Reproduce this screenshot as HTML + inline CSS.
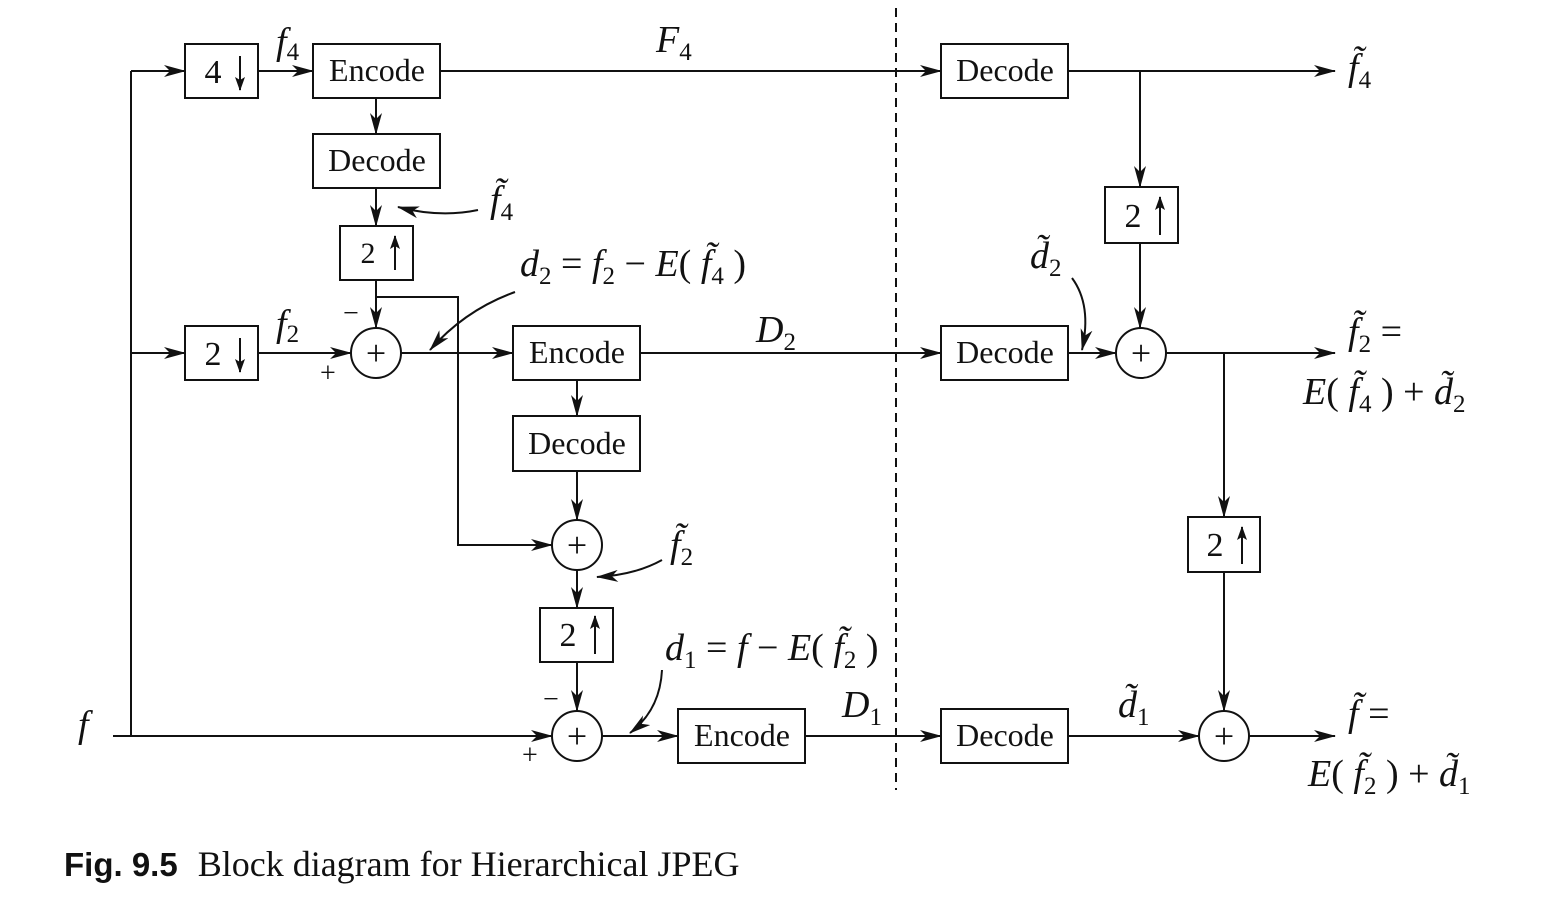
<!DOCTYPE html>
<html><head><meta charset="utf-8"><style>
body{margin:0;background:#fff}
svg{display:block}
text{font-family:"Liberation Serif",serif;fill:#111}
.it{font-style:italic}
.bx{fill:#fff;stroke:#111;stroke-width:2}
.ln{stroke:#111;stroke-width:2;fill:none}
.bt{font-size:32px;text-anchor:middle}
.pl{font-size:36px;text-anchor:middle}
.num{font-size:34px;text-anchor:middle}
.lab{font-size:38px}
.sb{font-size:25px;font-style:normal}
</style></head><body>
<svg width="1557" height="921" viewBox="0 0 1557 921">
<defs><marker id="ah" viewBox="0 0 22 12" refX="21" refY="6" markerWidth="22" markerHeight="12" markerUnits="userSpaceOnUse" orient="auto"><path d="M0,0 L22,6 L0,12 L6,6z" fill="#111"/></marker>
<marker id="sh" viewBox="0 0 14 10" refX="13" refY="5" markerWidth="14" markerHeight="10" markerUnits="userSpaceOnUse" orient="auto"><path d="M0,0 L14,5 L0,10 L3,5z" fill="#111"/></marker></defs>
<g>
<path class="ln" d="M131,71 V736"/>
<path class="ln" d="M131,71 H185" marker-end="url(#ah)"/>
<path class="ln" d="M258,71 H313" marker-end="url(#ah)"/>
<path class="ln" d="M440,71 H941" marker-end="url(#ah)"/>
<path class="ln" d="M376,98 V134" marker-end="url(#ah)"/>
<path class="ln" d="M376,188 V226" marker-end="url(#ah)"/>
<path class="ln" d="M376,280 V328" marker-end="url(#ah)"/>
<path class="ln" d="M376,297 H458 V545 H552" marker-end="url(#ah)"/>
<path class="ln" d="M131,353 H185" marker-end="url(#ah)"/>
<path class="ln" d="M258,353 H351" marker-end="url(#ah)"/>
<path class="ln" d="M401,353 H513" marker-end="url(#ah)"/>
<path class="ln" d="M640,353 H941" marker-end="url(#ah)"/>
<path class="ln" d="M577,380 V416" marker-end="url(#ah)"/>
<path class="ln" d="M577,471 V520" marker-end="url(#ah)"/>
<path class="ln" d="M577,570 V608" marker-end="url(#ah)"/>
<path class="ln" d="M577,662 V711" marker-end="url(#ah)"/>
<path class="ln" d="M113,736 H552" marker-end="url(#ah)"/>
<path class="ln" d="M602,736 H678" marker-end="url(#ah)"/>
<path class="ln" d="M805,736 H941" marker-end="url(#ah)"/>
<path class="ln" d="M1068,71 H1335" marker-end="url(#ah)"/>
<path class="ln" d="M1140,71 V187" marker-end="url(#ah)"/>
<path class="ln" d="M1140,243 V328" marker-end="url(#ah)"/>
<path class="ln" d="M1068,353 H1116" marker-end="url(#ah)"/>
<path class="ln" d="M1166,353 H1335" marker-end="url(#ah)"/>
<path class="ln" d="M1224,353 V517" marker-end="url(#ah)"/>
<path class="ln" d="M1224,572 V711" marker-end="url(#ah)"/>
<path class="ln" d="M1068,736 H1199" marker-end="url(#ah)"/>
<path class="ln" d="M1249,736 H1335" marker-end="url(#ah)"/>
<path class="ln" d="M478,210 Q440,218 398,207" marker-end="url(#ah)"/>
<path class="ln" d="M515,292 Q465,310 430,350" marker-end="url(#ah)"/>
<path class="ln" d="M1072,278 Q1092,305 1082,350" marker-end="url(#ah)"/>
<path class="ln" d="M662,560 Q635,575 597,577" marker-end="url(#ah)"/>
<path class="ln" d="M662,670 Q660,710 630,733" marker-end="url(#ah)"/>
<path d="M896,8 V790" stroke="#111" stroke-width="2" stroke-dasharray="9,6"/>
</g>
<g>
<rect class="bx" x="185" y="44" width="73" height="54"/><text x="213" y="83" class="num">4</text><path class="ln" d="M240,56 V90" marker-end="url(#sh)"/>
<rect class="bx" x="313" y="44" width="127" height="54"/><text x="377" y="81" class="bt">Encode</text>
<rect class="bx" x="313" y="134" width="127" height="54"/><text x="377" y="171" class="bt">Decode</text>
<rect class="bx" x="340" y="226" width="73" height="54"/><text x="368" y="263" class="bt" style="font-size:30px">2</text><path class="ln" d="M395,270 V236" marker-end="url(#sh)"/>
<rect class="bx" x="185" y="326" width="73" height="54"/><text x="213" y="365" class="num">2</text><path class="ln" d="M240,338 V372" marker-end="url(#sh)"/>
<rect class="bx" x="513" y="326" width="127" height="54"/><text x="577" y="363" class="bt">Encode</text>
<rect class="bx" x="513" y="416" width="127" height="55"/><text x="577" y="454" class="bt">Decode</text>
<rect class="bx" x="540" y="608" width="73" height="54"/><text x="568" y="646" class="num">2</text><path class="ln" d="M595,654 V616" marker-end="url(#sh)"/>
<rect class="bx" x="678" y="709" width="127" height="54"/><text x="742" y="746" class="bt">Encode</text>
<rect class="bx" x="941" y="44" width="127" height="54"/><text x="1005" y="81" class="bt">Decode</text>
<rect class="bx" x="941" y="326" width="127" height="54"/><text x="1005" y="363" class="bt">Decode</text>
<rect class="bx" x="941" y="709" width="127" height="54"/><text x="1005" y="746" class="bt">Decode</text>
<rect class="bx" x="1105" y="187" width="73" height="56"/><text x="1133" y="227" class="num">2</text><path class="ln" d="M1160,235 V197" marker-end="url(#sh)"/>
<rect class="bx" x="1188" y="517" width="72" height="55"/><text x="1215" y="556" class="num">2</text><path class="ln" d="M1242,564 V527" marker-end="url(#sh)"/>
</g>
<g>
<circle class="bx" cx="376" cy="353" r="25"/><text x="376" y="365" class="pl">+</text>
<circle class="bx" cx="577" cy="545" r="25"/><text x="577" y="557" class="pl">+</text>
<circle class="bx" cx="577" cy="736" r="25"/><text x="577" y="748" class="pl">+</text>
<circle class="bx" cx="1141" cy="353" r="25"/><text x="1141" y="365" class="pl">+</text>
<circle class="bx" cx="1224" cy="736" r="25"/><text x="1224" y="748" class="pl">+</text>
</g>
<g>
<text x="343" y="322" style="font-size:28px">−</text><text x="320" y="382" style="font-size:28px">+</text>
<text x="543" y="708" style="font-size:28px">−</text><text x="522" y="764" style="font-size:28px">+</text>
<text x="276" y="54" class="it lab">f<tspan class="sb" dy="6">4</tspan></text>
<text x="276" y="336" class="it lab">f<tspan class="sb" dy="6">2</tspan></text>
<text x="656" y="52" class="it lab">F<tspan class="sb" dy="8">4</tspan></text>
<text x="756" y="342" class="it lab">D<tspan class="sb" dy="8">2</tspan></text>
<text x="842" y="717" class="it lab">D<tspan class="sb" dy="8">1</tspan></text>
<text x="78" y="737" class="it lab">f</text>
<text x="490" y="212" class="it lab">f̃<tspan class="sb" dy="8">4</tspan></text>
<text x="520" y="276" class="it lab">d<tspan class="sb" dy="8">2</tspan><tspan dy="-8" font-style="normal"> = </tspan>f<tspan class="sb" dy="8">2</tspan><tspan dy="-8" font-style="normal"> − </tspan>E<tspan font-style="normal">( </tspan>f̃<tspan class="sb" dy="8">4</tspan><tspan dy="-8" font-style="normal"> )</tspan></text>
<text x="1030" y="268" class="it lab">d̃<tspan class="sb" dy="8">2</tspan></text>
<text x="670" y="557" class="it lab">f̃<tspan class="sb" dy="8">2</tspan></text>
<text x="665" y="660" class="it lab">d<tspan class="sb" dy="8">1</tspan><tspan dy="-8" font-style="normal"> = </tspan>f<tspan font-style="normal"> − </tspan>E<tspan font-style="normal">( </tspan>f̃<tspan class="sb" dy="8">2</tspan><tspan dy="-8" font-style="normal"> )</tspan></text>
<text x="1118" y="717" class="it lab">d̃<tspan class="sb" dy="8">1</tspan></text>
<text x="1348" y="80" class="it lab">f̃<tspan class="sb" dy="8">4</tspan></text>
<text x="1348" y="344" class="it lab">f̃<tspan class="sb" dy="8">2</tspan><tspan dy="-8" font-style="normal"> =</tspan></text>
<text x="1303" y="404" class="it lab">E<tspan font-style="normal">( </tspan>f̃<tspan class="sb" dy="8">4</tspan><tspan dy="-8" font-style="normal"> ) + </tspan>d̃<tspan class="sb" dy="8">2</tspan></text>
<text x="1348" y="726" class="it lab">f̃<tspan font-style="normal"> =</tspan></text>
<text x="1308" y="786" class="it lab">E<tspan font-style="normal">( </tspan>f̃<tspan class="sb" dy="8">2</tspan><tspan dy="-8" font-style="normal"> ) + </tspan>d̃<tspan class="sb" dy="8">1</tspan></text>
</g>
<text x="64" y="876" style="font-size:36px"><tspan style="font-family:'Liberation Sans',sans-serif;font-weight:bold;font-size:33px">Fig. 9.5</tspan><tspan dx="20">Block diagram for Hierarchical JPEG</tspan></text>
</svg>
</body></html>
